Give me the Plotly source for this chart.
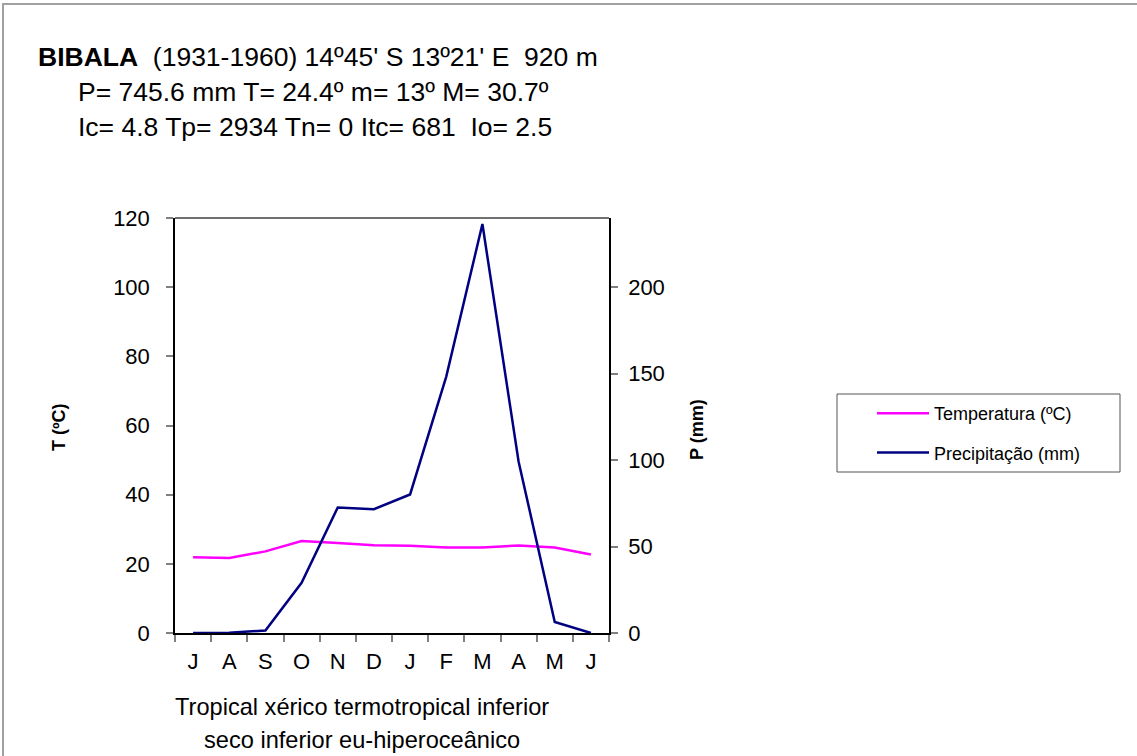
import plotly.graph_objects as go

months = ["J", "A", "S", "O", "N", "D", "J", "F", "M", "A", "M", "J"]
temperature = [21.9, 21.7, 23.6, 26.6, 26.0, 25.4, 25.2, 24.7, 24.7, 25.3, 24.7, 22.7]
precipitation = [0.0, 0.2, 1.4, 29.0, 72.6, 71.6, 80.1, 148.3, 236.5, 99.2, 6.4, 0.0]
t_ticks = [0, 20, 40, 60, 80, 100, 120]
p_ticks = [0, 50, 100, 150, 200]

title_lines = [
    "<b>BIBALA</b>  (1931-1960) 14º45' S 13º21' E  920 m",
    "P= 745.6 mm T= 24.4º m= 13º M= 30.7º",
    "Ic= 4.8 Tp= 2934 Tn= 0 Itc= 681  Io= 2.5",
]
bottom_lines = ["Tropical xérico termotropical inferior", "seco inferior eu-hiperoceânico"]

W, H = 1137, 756
L, R, T, B = 175, 609, 218, 633
FONT = "Liberation Sans, Arial, sans-serif"


def px(x):
    return (x - L) / (R - L)


def py(y):
    return (B - y) / (B - T)


xs = list(range(len(months)))

fig = go.Figure()
fig.add_trace(go.Scatter(x=xs, y=temperature, mode="lines", name="Temperatura (ºC)",
                         legendgroup="t", line=dict(color="#FF00FF", width=2.5), yaxis="y"))
fig.add_trace(go.Scatter(x=xs, y=precipitation, mode="lines", name="Precipitação (mm)",
                         legendgroup="p", line=dict(color="#000080", width=2.5), yaxis="y2"))

annotations = []
for txt, xx, yy in zip(title_lines, [36, 76, 76], [57, 92, 127]):
    annotations.append(dict(text=txt, x=px(xx), y=py(yy), xref="paper", yref="paper",
                            xanchor="left", yanchor="middle", showarrow=False,
                            font=dict(size=26.5, color="black", family=FONT)))
for txt, yy in zip(bottom_lines, [707, 740]):
    annotations.append(dict(text=txt, x=px(362), y=py(yy), xref="paper", yref="paper",
                            xanchor="center", yanchor="middle", showarrow=False,
                            font=dict(size=23.6, color="black", family=FONT)))
annotations.append(dict(text="<b>T (ºC)</b>", x=px(59), y=py(427), xref="paper", yref="paper",
                        xanchor="center", yanchor="middle", showarrow=False, textangle=-90,
                        font=dict(size=18, color="black", family=FONT)))
annotations.append(dict(text="<b>P (mm)</b>", x=px(697), y=py(430), xref="paper", yref="paper",
                        xanchor="center", yanchor="middle", showarrow=False, textangle=-90,
                        font=dict(size=18, color="black", family=FONT)))

shapes = [
    dict(type="rect", xref="paper", yref="paper", x0=px(3), x1=px(1200), y0=py(800), y1=py(4),
         line=dict(color="#A0A0A0", width=2), fillcolor="rgba(0,0,0,0)", layer="below"),
    dict(type="rect", xref="paper", yref="paper", x0=px(837), x1=px(1120), y0=py(472), y1=py(394),
         line=dict(color="#555555", width=1), fillcolor="rgba(0,0,0,0)"),
    dict(type="line", xref="paper", yref="paper", x0=0, x1=1, y0=1, y1=1,
         line=dict(color="#404040", width=1.5)),
]

fig.update_layout(
    width=W, height=H,
    margin=dict(l=L, r=W - R, t=T, b=H - B),
    paper_bgcolor="white", plot_bgcolor="white",
    font=dict(family=FONT, color="black", size=22),
    showlegend=True,
    legend=dict(x=px(872), y=py(395), xanchor="left", yanchor="top",
                bgcolor="rgba(0,0,0,0)", borderwidth=0, itemwidth=52,
                font=dict(size=18, family=FONT, color="black"), tracegroupgap=13),
    xaxis=dict(range=[-0.5, 11.5], tickmode="array", tickvals=xs, ticktext=months,
               ticks="", showgrid=False, zeroline=False, showline=True, linecolor="black",
               linewidth=1.5, mirror=False, tickfont=dict(size=22), ticklabelstandoff=8,
               minor=dict(tickmode="array", tickvals=[i - 0.5 for i in range(13)],
                          ticks="outside", ticklen=7, tickcolor="#808080", tickwidth=1.5)),
    yaxis=dict(range=[0, 120], tickmode="array", tickvals=t_ticks, ticks="outside", ticklen=7,
               tickcolor="#808080", tickwidth=1.5, showgrid=False, zeroline=False,
               showline=True, linecolor="black", linewidth=1.5, tickfont=dict(size=22),
               ticklabelstandoff=12),
    yaxis2=dict(range=[0, 240], tickmode="array", tickvals=p_ticks, ticks="outside", ticklen=7,
                tickcolor="#808080", tickwidth=1.5, showgrid=False, zeroline=False,
                showline=True, linecolor="black", linewidth=1.5, side="right",
                overlaying="y", tickfont=dict(size=22), ticklabelstandoff=6),
    annotations=annotations,
    shapes=shapes,
)

fig.write_html("out.html")
